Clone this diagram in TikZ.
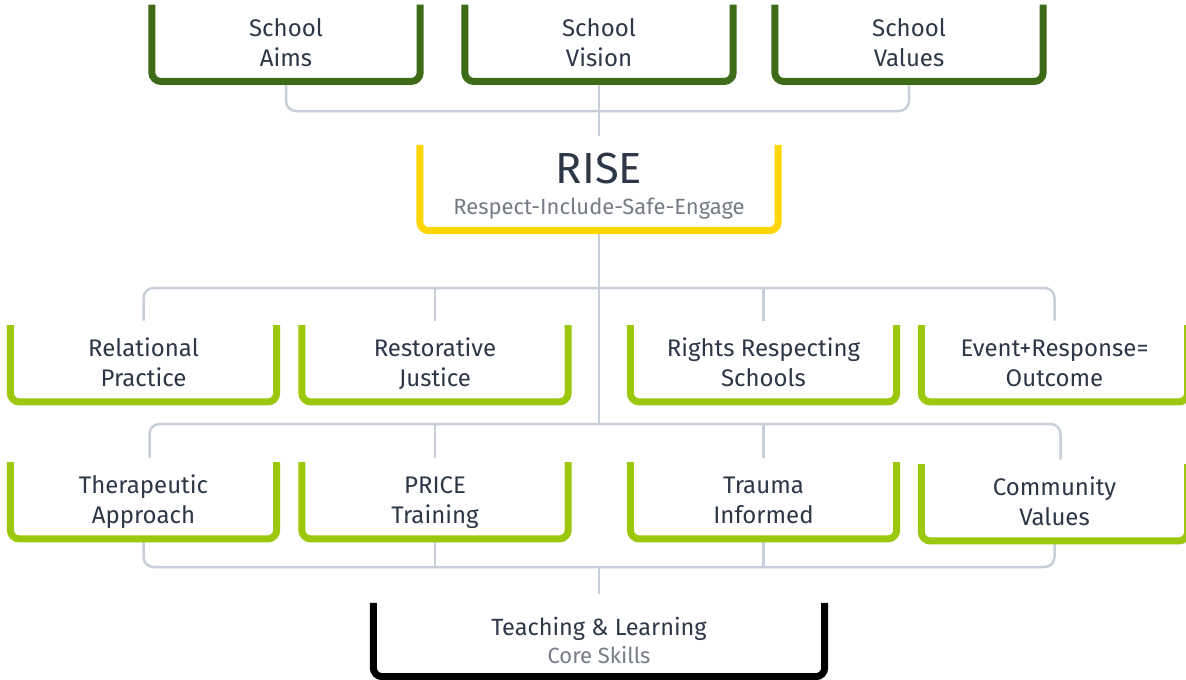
\documentclass[tikz,border=0pt]{standalone}
\usepackage{fontspec}
\setmainfont{Fira Sans}
\usepackage{xcolor}
\definecolor{riseInk}{HTML}{2D3748}
\definecolor{riseGrey}{HTML}{767C86}
\definecolor{riseLine}{HTML}{C9CFDA}
\definecolor{riseForest}{HTML}{3E6B17}
\definecolor{riseLime}{HTML}{9BC80C}
\definecolor{riseGold}{HTML}{FFD500}
\usepackage{tikz}
\usetikzlibrary{positioning,calc}

\begin{document}
\begin{tikzpicture}[x=1pt,y=-1pt,
  box/.style={minimum width=266pt,minimum height=76.5pt,inner sep=0pt,align=center,text=riseInk,
    font=\fontsize{24}{30}\selectfont,text height=46.5pt,text depth=0pt},
  wide/.style={box,minimum width=268pt},
  frame/.style={line width=7pt,rounded corners=9pt},
  link/.style={riseLine,line width=2.5pt,rounded corners=10pt},
  title/.style={anchor=base,inner sep=0pt,text=riseInk},
  sub/.style={anchor=base,inner sep=0pt,text=riseGrey,font=\fontsize{22}{24}\selectfont}]
  \useasboundingbox[fill=white] (0,0) rectangle (1186,680);

  % top row
  \node[wide] (aims)   at (286,43) {School\\Aims};
  \node[wide] (vision) at (599,43) {School\\Vision};
  \node[wide] (values) at (909,43) {School\\Values};

  % RISE
  \node[box,minimum width=358pt,minimum height=85.5pt] (rise) at (599,187.75) {};
  \node[title,font=\fontsize{43.5}{44}\selectfont] (riseName) at (599,183) {RISE};
  \node[sub] (riseSub) at (599,214.5) {Respect-Include-Safe-Engage};

  % second row
  \node[box] (rel)    at (143.5,363.5)  {Relational\\Practice};
  \node[box] (rest)   at (435,363.5)    {Restorative\\Justice};
  \node[box] (rights) at (763.5,363.5)  {Rights Respecting\\Schools};
  \node[box] (event)  at (1054.5,363.5) {Event+Response=\\Outcome};

  % third row
  \node[box] (ther)   at (143.5,500.5)  {Therapeutic\\Approach};
  \node[box] (price)  at (435,500.5)    {PRICE\\Training};
  \node[box] (trauma) at (763.5,500.5)  {Trauma\\Informed};
  \node[box] (comm)   at (1054.5,502.5) {Community\\Values};

  % bottom
  \node[box,minimum width=451pt,minimum height=73.5pt] (teach) at (599,639.75) {};
  \node[title,font=\fontsize{23.5}{26}\selectfont] (teachName) at (599,635) {Teaching \& Learning};
  \node[sub] (teachSub) at (599,663.5) {Core Skills};

  \coordinate (topBus)  at (599,111);
  \coordinate (midBus)  at (599,288);
  \coordinate (lowBus)  at (599,424);
  \coordinate (baseBus) at (599,567);

  % connectors
  \draw[link] ([yshift=-2pt]aims.south) |- (topBus) -| ([yshift=-2pt]values.south);
  \draw[link,shorten >=9pt] ([yshift=-2pt]vision.south) -- (rise.north);
  \draw[link] (rise.south) -- (lowBus);
  \draw[link,shorten <=7pt,shorten >=7pt] ([yshift=-2.5pt]rel.north) |- (midBus) -| ([yshift=-2.5pt]event.north);
  \draw[link,shorten >=7pt] (midBus -| rest.north) -- ([yshift=-2.5pt]rest.north);
  \draw[link,shorten >=7pt] (midBus -| rights.north) -- ([yshift=-2.5pt]rights.north);
  \draw[link,shorten <=7pt,shorten >=7pt] ([xshift=6pt,yshift=-2.5pt]ther.north) |- (lowBus) -| ([xshift=6pt,yshift=-2.5pt]comm.north);
  \draw[link,shorten >=7pt] (lowBus -| price.north) -- ([yshift=-2.5pt]price.north);
  \draw[link,shorten >=7pt] (lowBus -| trauma.north) -- ([yshift=-2.5pt]trauma.north);
  \draw[link] ([yshift=2.5pt]ther.south) |- (baseBus) -| ([yshift=2.5pt]comm.south);
  \draw[link] ([yshift=2.5pt]price.south) -- (baseBus -| price.south);
  \draw[link] ([yshift=2.5pt]trauma.south) -- (baseBus -| trauma.south);
  \draw[link,shorten >=9pt] (baseBus) -- (teach.north);

  % open-topped frames, nudged to sit round the two-line labels
  \foreach \n/\c/\dy in {aims/riseForest/2,vision/riseForest/2,values/riseForest/2,rise/riseGold/0,
      rel/riseLime/2.5,rest/riseLime/2.5,rights/riseLime/2.5,event/riseLime/2.5,
      ther/riseLime/2.5,price/riseLime/2.5,trauma/riseLime/2.5,comm/riseLime/0.5,teach/black/0}
    \draw[frame,draw=\c,yshift=\dy pt] (\n.north west) -- (\n.south west) -- (\n.south east) -- (\n.north east);
\end{tikzpicture}
\end{document}
